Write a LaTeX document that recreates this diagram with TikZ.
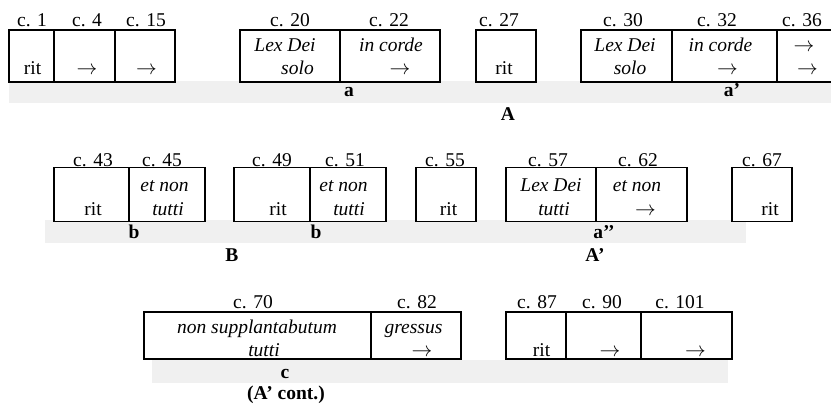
\documentclass[tikz,border=0pt]{standalone}
\usepackage{fontspec}
\setmainfont{Liberation Serif}
\definecolor{bandgrey}{HTML}{F0F0F0}
\newcommand\fsz{\fontsize{19.5}{23}\selectfont}
\newcommand\arr{$\rightarrow$}
\begin{document}
\begin{tikzpicture}[x=1pt,y=-1pt,
  txt/.style={font=\fsz, inner sep=0pt, anchor=base},
  it/.style={font=\fsz\itshape, inner sep=0pt, anchor=base},
  lbl/.style={font=\fsz\bfseries, inner sep=0pt, anchor=base},
  cell/.style={draw=black, line width=1.2pt, fill=white},
  thickcell/.style={draw=black, line width=2pt, fill=white},
  band/.style={fill=bandgrey, draw=none}]
\useasboundingbox (0,0) rectangle (831,404);

% ---------- grey bands ----------
\fill[band] (9,81) rectangle (831,103);
\fill[band] (45,220) rectangle (746,243);
\fill[band] (152,360) rectangle (728,383);

% ---------- row 1 ----------
\draw[cell] (9,30) rectangle (54,82);
\draw[cell] (54,30) rectangle (115,82);
\draw[cell] (115,30) rectangle (175,82);
\draw[cell] (240,30) rectangle (340,82);
\draw[cell] (340,30) rectangle (440,82);
\draw[cell] (476,30) rectangle (536,82);
\draw[cell] (581,30) rectangle (672,82);
\draw[thickcell] (672,30) rectangle (777,82);
\draw[thickcell] (777,30) rectangle (835,82);

\node[txt] (l1)  at (32,27)  {c. 1};
\node[txt] (l4)  at (87,27)  {c. 4};
\node[txt] (l15) at (146,27) {c. 15};
\node[txt] (l20) at (290,27) {c. 20};
\node[txt] (l22) at (389,27) {c. 22};
\node[txt] (l27) at (499,27) {c. 27};
\node[txt] (l30) at (623,27) {c. 30};
\node[txt] (l32) at (717,27) {c. 32};
\node[txt] (l36) at (802,27) {c. 36};

\node[txt] (t1a) at (32.5,75) {rit};
\node[txt] (t4a) at (87,75) {\arr};
\node[txt] (t15a) at (146.5,75) {\arr};
\node[it]  (t20a) at (285,52) {Lex Dei};
\node[it]  (t20b) at (297.5,75) {solo};
\node[it]  (t22a) at (391,52) {in corde};
\node[txt] (t22b) at (400,75) {\arr};
\node[txt] (t27a) at (504,75) {rit};
\node[it]  (t30a) at (625,52) {Lex Dei};
\node[it]  (t30b) at (630,75) {solo};
\node[it]  (t32a) at (720.5,52) {in corde};
\node[txt] (t32b) at (727.5,75) {\arr};
\node[txt] (t36a) at (804,52) {\arr};
\node[txt] (t36b) at (807.5,75) {\arr};

\node[lbl] (sa)  at (349,97) {a};
\node[lbl] (sa1) at (732,97) {a’};
\node[lbl] (sA)  at (508,121) {A};

% ---------- row 2 ----------
\draw[cell] (54,167.5) rectangle (129,221.5);
\draw[cell] (129,167.5) rectangle (205,221.5);
\draw[cell] (234,167.5) rectangle (310,221.5);
\draw[cell] (310,167.5) rectangle (386,221.5);
\draw[cell] (416,167.5) rectangle (476,221.5);
\draw[cell] (506,167.5) rectangle (596,221.5);
\draw[cell] (596,167.5) rectangle (687,221.5);
\draw[cell] (732,167.5) rectangle (792,221.5);

\node[txt] (l43) at (93,167)  {c. 43};
\node[txt] (l45) at (162,167) {c. 45};
\node[txt] (l49) at (272,167) {c. 49};
\node[txt] (l51) at (345,167) {c. 51};
\node[txt] (l55) at (445,167) {c. 55};
\node[txt] (l57) at (548,167) {c. 57};
\node[txt] (l62) at (638,167) {c. 62};
\node[txt] (l67) at (762,167) {c. 67};

\node[txt] (t43a) at (93,215) {rit};
\node[it]  (t45a) at (164.5,191.5) {et non};
\node[it]  (t45b) at (168,215) {tutti};
\node[txt] (t49a) at (278,215) {rit};
\node[it]  (t51a) at (343.5,191.5) {et non};
\node[it]  (t51b) at (349,215) {tutti};
\node[txt] (t55a) at (448.5,215) {rit};
\node[it]  (t57a) at (551,191.5) {Lex Dei};
\node[it]  (t57b) at (554,215) {tutti};
\node[it]  (t62a) at (637,191.5) {et non};
\node[txt] (t62b) at (645.5,215) {\arr};
\node[txt] (t67a) at (770,215) {rit};

\node[lbl] (sb1) at (134,238) {b};
\node[lbl] (sb2) at (316,238) {b};
\node[lbl] (sa2) at (604,238) {a’’};
\node[lbl] (sB)  at (232,261) {B};
\node[lbl] (sA1) at (595,261) {A’};

% ---------- row 3 ----------
\draw[cell] (144,312) rectangle (371,359);
\draw[cell] (371,312) rectangle (461,359);
\draw[cell] (506,312) rectangle (566,359);
\draw[thickcell] (566,312) rectangle (641,359);
\draw[thickcell] (641,312) rectangle (732,359);

\node[txt] (l70)  at (253,308.5) {c. 70};
\node[txt] (l82)  at (417,308.5) {c. 82};
\node[txt] (l87)  at (537,308.5) {c. 87};
\node[txt] (l90)  at (602,308.5) {c. 90};
\node[txt] (l101) at (680,308.5) {c. 101};

\node[it]  (t70a) at (257,333) {non supplantabutum};
\node[it]  (t70b) at (264,356) {tutti};
\node[it]  (t82a) at (413.5,333) {gressus};
\node[txt] (t82b) at (422,356) {\arr};
\node[txt] (t87a) at (541.5,356) {rit};
\node[txt] (t90a) at (610,356) {\arr};
\node[txt] (t101a) at (695.5,356) {\arr};

\node[lbl] (sc)  at (285,378) {c};
\node[lbl] (scA) at (286,399) {(A’ cont.)};
\end{tikzpicture}
\end{document}
